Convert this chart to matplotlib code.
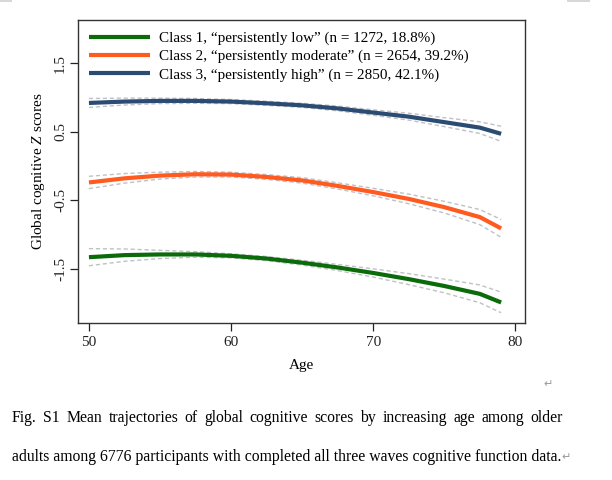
import numpy as np
import matplotlib
matplotlib.use('Agg')
import matplotlib.pyplot as plt
from matplotlib.patches import Rectangle

plt.rcParams['font.family'] = ['Liberation Serif', 'DejaVu Sans']
plt.rcParams['mathtext.fontset'] = 'custom'
plt.rcParams['mathtext.it'] = 'Liberation Serif:italic'
plt.rcParams['mathtext.rm'] = 'Liberation Serif'

age = [50, 52.5, 55, 57.5, 60, 62.5, 65, 67.5, 70, 72.5, 75, 77.5, 79]

low_mean = [-1.33, -1.30, -1.29, -1.29, -1.31, -1.35, -1.41, -1.48, -1.56, -1.65, -1.75, -1.865, -1.99]
low_hw = [0.125, 0.09, 0.06, 0.04, 0.03, 0.03, 0.035, 0.045, 0.06, 0.08, 0.10, 0.13, 0.15]

mod_mean = [-0.24, -0.18, -0.14, -0.12, -0.125, -0.16, -0.21, -0.29, -0.38, -0.48, -0.60, -0.745, -0.91]
mod_hw = [0.09, 0.07, 0.05, 0.04, 0.035, 0.035, 0.04, 0.045, 0.055, 0.07, 0.085, 0.11, 0.13]

high_mean = [0.92, 0.94, 0.95, 0.95, 0.94, 0.915, 0.885, 0.84, 0.78, 0.72, 0.64, 0.56, 0.47]
high_hw = [0.065, 0.05, 0.04, 0.035, 0.03, 0.03, 0.03, 0.035, 0.04, 0.05, 0.065, 0.085, 0.11]

labels = ['Class 1, \u201cpersistently low\u201d (n = 1272, 18.8%)',
          'Class 2, \u201cpersistently moderate\u201d (n = 2654, 39.2%)',
          'Class 3, \u201cpersistently high\u201d (n = 2850, 42.1%)']
colors = ['#0b6b0b', '#ff5a1f', '#2b4c72']

xticks = [50, 60, 70, 80]
yticks = [-1.5, -0.5, 0.5, 1.5]

caption1 = 'Fig. S1 Mean trajectories of global cognitive scores by increasing age among older'
caption2 = 'adults among 6776 participants with completed all three waves cognitive function data.'

W, H = 612, 480
fig = plt.figure(figsize=(6.12, 4.8), dpi=100)
ax = fig.add_axes([78/W, 1 - 323/H, (525 - 78)/W, (323 - 20)/H])

a = np.array(age)
for m, hw, c, lab in zip([low_mean, mod_mean, high_mean],
                         [low_hw, mod_hw, high_hw], colors, labels):
    m = np.array(m)
    hw = np.array(hw)
    ax.plot(a, m + hw, color='#c0c0c8', lw=1.0, ls=(0, (3, 2)))
    ax.plot(a, m - hw, color='#c0c0c8', lw=1.0, ls=(0, (3, 2)))
    ax.plot(a, m, color=c, lw=3.0, label=lab, solid_capstyle='butt')

ax.set_xlim(49.23, 80.68)
ax.set_ylim(-2.29, 2.13)
ax.set_xticks(xticks)
ax.set_yticks(yticks)
ax.set_yticklabels([str(v) for v in yticks], rotation=90, va='center')
ax.tick_params(direction='out', length=6, width=0.9, labelsize=11, colors='#222222')
ax.tick_params(axis='y', pad=2)
for s in ax.spines.values():
    s.set_color('#333333')
    s.set_linewidth(1.0)

ax.set_xlabel('Age', fontsize=11, labelpad=7)
ax.set_ylabel(r'Global cognitive $\mathit{Z}$ scores', fontsize=11, labelpad=5)

leg = ax.legend(loc='upper left', frameon=False, fontsize=10.9, handlelength=4.0,
                handletextpad=0.6, labelspacing=0.3, borderaxespad=0.35,
                borderpad=0.4)

# caption, first line justified across the column
fig.canvas.draw()
r = fig.canvas.get_renderer()
words = caption1.split()
left, right, y1 = 12, 563, 1 - 418/H
objs = [fig.text(0, y1, w, fontsize=11.3, va='center', ha='left') for w in words]
widths = [o.get_window_extent(r).width for o in objs]
gap = (right - left - sum(widths)) / (len(words) - 1)
xpos = left
for o, wd in zip(objs, widths):
    o.set_x(xpos / W)
    xpos += wd + gap

fig.text(left/W, 1 - 457/H, caption2, fontsize=11.3, va='center', ha='left')
fig.text(543/W, 1 - 384/H, '\u21b5', fontsize=8, color='#999999', va='center',
         family=['DejaVu Sans'])
fig.text(561/W, 1 - 457/H, '\u21b5', fontsize=8, color='#999999', va='center',
         family=['DejaVu Sans'])

# page marks at the top edge
fig.patches.append(Rectangle((0, 1 - 2/H), 12/W, 2/H, transform=fig.transFigure,
                             color='#d8d8d8', lw=0))
fig.patches.append(Rectangle((567/W, 1 - 2/H), 23/W, 2/H, transform=fig.transFigure,
                             color='#d8d8d8', lw=0))

fig.savefig('out.png', dpi=100)
